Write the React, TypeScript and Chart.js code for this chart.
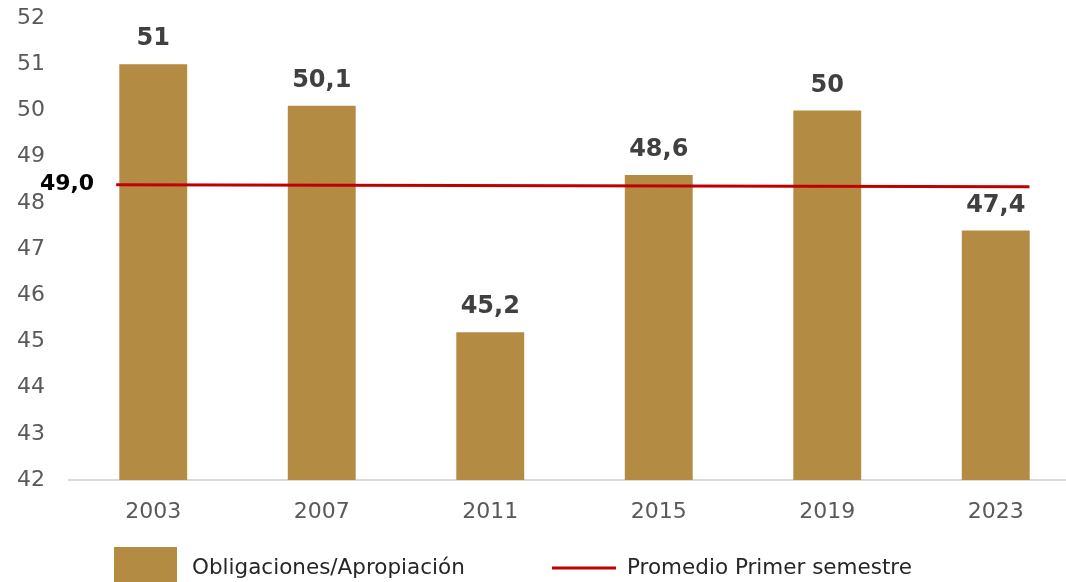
import React, { useEffect, useRef } from "react";
import { Chart, registerables } from "chart.js";

Chart.register(...registerables);

const years = ["2003", "2007", "2011", "2015", "2019", "2023"];
const obligaciones = [51, 50.1, 45.2, 48.6, 50, 47.4];
const promedio = [48.39, 48.35];
const promedioLabel = "49,0";
const seriesNames = ["Obligaciones/Apropiación", "Promedio Primer semestre"];
const yMin = 42;
const yMax = 52;

// reach of the average line, in category units (first bar = 0)
const LINE_FROM = -0.22;
const LINE_TO = 5.2;

const BAR_COLOR = "#b38b43";
const LINE_COLOR = "#c00000";
const FONT = "'DejaVu Sans', Verdana, sans-serif";

const fmt = (v: number) => String(v).replace(".", ",");

const labelsPlugin = {
  id: "customLabels",
  afterDatasetsDraw(chart: any) {
    const ctx = chart.ctx;
    ctx.save();
    const barMeta = chart.getDatasetMeta(0);
    ctx.font = `bold 24px ${FONT}`;
    ctx.fillStyle = "#404040";
    ctx.textAlign = "center";
    ctx.textBaseline = "middle";
    barMeta.data.forEach((el: any, i: number) => {
      ctx.fillText(fmt(obligaciones[i]), el.x, el.y - 25);
    });
    const lineMeta = chart.getDatasetMeta(1);
    const p0 = lineMeta.data[0];
    if (p0) {
      ctx.font = `bold 22px ${FONT}`;
      ctx.fillStyle = "#000000";
      ctx.textAlign = "right";
      ctx.fillText(promedioLabel, p0.x - 22, p0.y - 1);
    }
    ctx.restore();
  },
  afterDraw(chart: any) {
    const ctx = chart.ctx;
    ctx.save();
    const cy = 568;
    ctx.fillStyle = BAR_COLOR;
    ctx.fillRect(114, 547, 63, 50);
    ctx.font = `21.5px ${FONT}`;
    ctx.fillStyle = "#262626";
    ctx.textAlign = "left";
    ctx.textBaseline = "middle";
    ctx.fillText(seriesNames[0], 192, cy);
    ctx.strokeStyle = LINE_COLOR;
    ctx.lineWidth = 3;
    ctx.beginPath();
    ctx.moveTo(552, cy);
    ctx.lineTo(616, cy);
    ctx.stroke();
    ctx.fillText(seriesNames[1], 627, cy);
    ctx.restore();
  },
};

export default function App() {
  const ref = useRef<HTMLCanvasElement | null>(null);

  useEffect(() => {
    if (!ref.current) return;
    const chart = new Chart(ref.current, {
      type: "bar",
      data: {
        labels: years,
        datasets: [
          {
            type: "bar",
            label: seriesNames[0],
            data: obligaciones,
            backgroundColor: BAR_COLOR,
            categoryPercentage: 1,
            barPercentage: 0.403,
            grouped: false,
            order: 2,
          },
          {
            type: "line",
            label: seriesNames[1],
            parsing: false,
            data: [
              { x: LINE_FROM, y: promedio[0] },
              { x: LINE_TO, y: promedio[1] },
            ],
            borderColor: LINE_COLOR,
            borderWidth: 3,
            pointRadius: 0,
            order: 1,
          },
        ] as any,
      },
      options: {
        responsive: false,
        animation: false,
        layout: { padding: { top: 18, right: 2, left: 0, bottom: 0 } },
        plugins: {
          legend: { display: false },
          tooltip: { enabled: false },
        },
        scales: {
          x: {
            type: "category",
            offset: true,
            grid: { display: false, drawTicks: false },
            border: { display: true, color: "#d9d9d9", width: 2 },
            ticks: {
              color: "#595959",
              font: { family: FONT, size: 22 },
              padding: 19,
              maxRotation: 0,
            },
            afterFit: (s: any) => {
              s.height = 102;
            },
          },
          y: {
            min: yMin,
            max: yMax,
            grid: { display: false, drawTicks: true, tickLength: 24 },
            border: { display: false },
            ticks: {
              stepSize: 1,
              color: "#595959",
              font: { family: FONT, size: 22 },
              padding: 0,
            },
            afterFit: (s: any) => {
              s.width = 69;
            },
          },
        },
      } as any,
      plugins: [labelsPlugin],
    });
    return () => chart.destroy();
  }, []);

  return (
    <div style={{ position: "absolute", left: 0, top: 0, width: 1066, height: 582, overflow: "hidden", background: "#fff" }}>
      <canvas ref={ref} width={1082} height={582} />
    </div>
  );
}
